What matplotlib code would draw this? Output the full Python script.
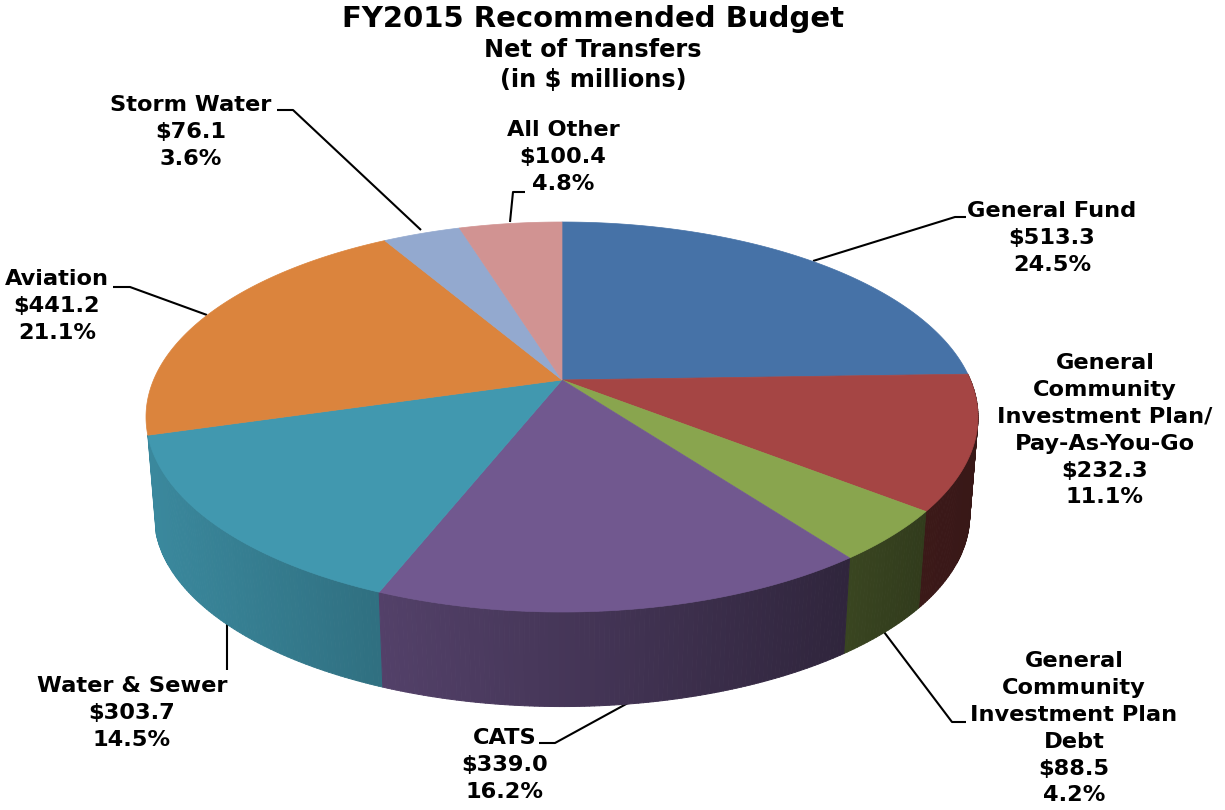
import numpy as np
import matplotlib
matplotlib.use("Agg")
import matplotlib.pyplot as plt
from matplotlib.collections import PolyCollection

# ---- data -----------------------------------------------------------
categories = ["General Fund",
              "General\nCommunity\nInvestment Plan/\nPay-As-You-Go",
              "General\nCommunity\nInvestment Plan\nDebt",
              "CATS", "Water & Sewer", "Aviation", "Storm Water", "All Other"]
values = [513.3, 232.3, 88.5, 339.0, 303.7, 441.2, 76.1, 100.4]
percents = ["24.5%", "11.1%", "4.2%", "16.2%", "14.5%", "21.1%", "3.6%", "4.8%"]
colors = ["#4672A7", "#A54544", "#89A54E", "#71588F", "#4198AF", "#DB843D", "#93A9CF", "#D19392"]
title_lines = ["FY2015 Recommended Budget", "Net of Transfers", "(in $ millions)"]

# ---- layout (pixels) -------------------------------------------------
label_pos = [(1052, 201), (1105, 353), (1074, 651), (505, 728), (132, 676), (57, 269), (191, 95), (563, 120)]
leaders = [[(813, 261), (955, 217), (966, 217)],
           [],
           [(881, 628), (952, 722), (966, 722)],
           [(628, 703), (555, 743), (539, 743)],
           [(227, 617), (227, 670)],
           [(207, 315), (130, 287), (113, 287)],
           [(421, 230), (293, 110), (277, 110)],
           [(510, 222), (513, 192), (525, 192)]]
CX, CY, RX, RY, A = 562.0, 417.0, 416.0, 195.0, 0.19   # rim ellipse and apex shift
SCALE, VY = 0.98, 5340.0                               # extrusion toward the vanishing point
shade_x = [146, 385, 620, 850, 925, 980]
shade_f = [0.90, 0.73, 0.58, 0.42, 0.36, 0.34]


def project(theta):
    """Map a clockwise-from-top angle on the true circle to image pixels."""
    m = np.pi / 2 - theta
    x, y = np.cos(m), np.sin(m)
    d = 1 + A * y
    u = x * np.sqrt(1 - A ** 2) / d
    v = (y + A) / d
    return CX + RX * u, CY - RY * v


def drop(x, y):
    return CX + (x - CX) * SCALE, VY + (y - VY) * SCALE


fig = plt.figure(figsize=(12.25, 8.10), dpi=100, facecolor="white")
ax = fig.add_axes([0, 0, 1, 1])
ax.set_xlim(0, 1225)
ax.set_ylim(810, 0)
ax.axis("off")

edges = np.concatenate([[0], np.cumsum(values)]) / np.sum(values) * 2 * np.pi
apex = (CX, CY - RY * A)

# sides
quads = []
for i, col in enumerate(colors):
    base = np.array(matplotlib.colors.to_rgb(col))
    n = max(int((edges[i + 1] - edges[i]) / 0.01), 2)
    t = np.linspace(edges[i], edges[i + 1], n + 1)
    px, py = project(t)
    if py[n // 2] < CY:      # slice on the far side: its wall stays hidden
        continue
    bx, by = drop(px, py)
    for j in range(n):
        xm = 0.5 * (px[j] + px[j + 1])
        f = np.interp(xm, shade_x, shade_f)
        quads.append((0.5 * (py[j] + py[j + 1]),
                      [(px[j], py[j]), (px[j + 1], py[j + 1]), (bx[j + 1], by[j + 1]), (bx[j], by[j])],
                      tuple(base * f)))
quads.sort(key=lambda q: q[0])
ax.add_collection(PolyCollection([q[1] for q in quads], facecolors=[q[2] for q in quads],
                                 edgecolors=[q[2] for q in quads], linewidths=0.7, zorder=2))

# top faces
for i, col in enumerate(colors):
    t = np.linspace(edges[i], edges[i + 1], 200)
    px, py = project(t)
    ax.fill(np.r_[apex[0], px], np.r_[apex[1], py], facecolor=col, edgecolor=col, linewidth=0.5, zorder=3)

# leaders
for pts in leaders:
    if pts:
        xs, ys = zip(*pts)
        ax.plot(xs, ys, color="black", lw=1.5, zorder=1, solid_capstyle="butt", solid_joinstyle="round")

# labels
FS = 16.2
for cat, val, pct, (x, y) in zip(categories, values, percents, label_pos):
    ax.text(x, y, f"{cat}\n${val:.1f}\n{pct}", ha="center", va="top", ma="center",
            fontsize=FS, fontweight="bold", family="DejaVu Sans", linespacing=1.43, color="black", zorder=5)

# title
ax.text(593, 19, title_lines[0], ha="center", va="center", fontsize=21, fontweight="bold", family="DejaVu Sans")
ax.text(593, 50, title_lines[1], ha="center", va="center", fontsize=17.3, fontweight="bold", family="DejaVu Sans")
ax.text(593, 80, title_lines[2], ha="center", va="center", fontsize=17.3, fontweight="bold", family="DejaVu Sans")

fig.savefig("out.png", dpi=100, facecolor="white")
